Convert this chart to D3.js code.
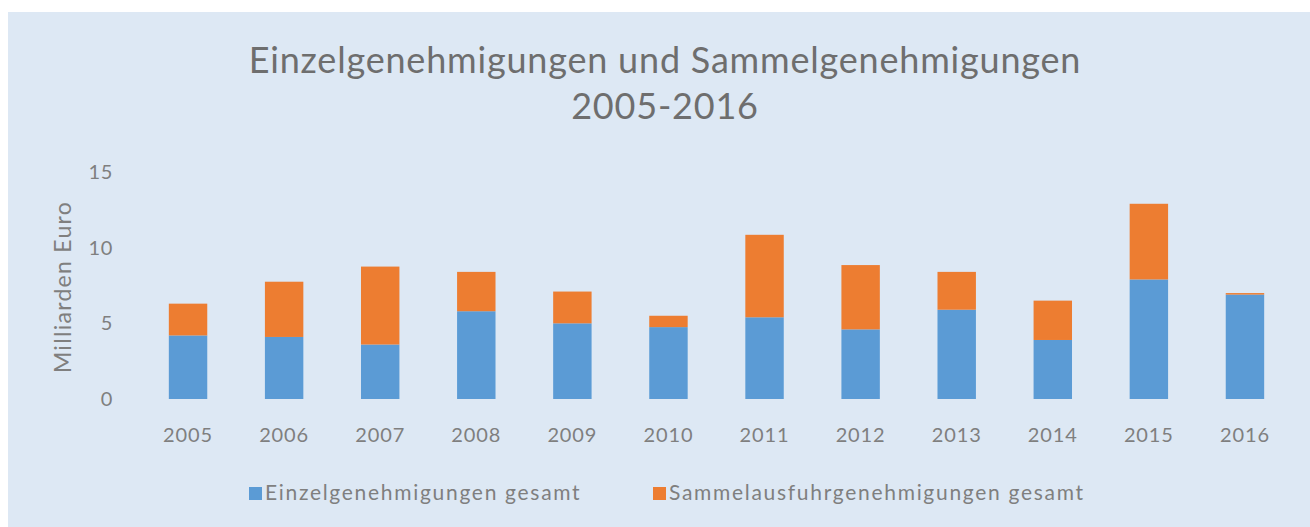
<!DOCTYPE html>
<html><head><meta charset="utf-8">
<script src="https://cdn.jsdelivr.net/npm/d3@7"></script>
<style>html,body{margin:0;padding:0;background:#fff;}</style>
</head><body>
<svg id="chart" width="1310" height="527"></svg>
<script>
const years = ["2005","2006","2007","2008","2009","2010","2011","2012","2013","2014","2015","2016"];
const einzel = [4.2, 4.1, 3.6, 5.8, 5.0, 4.75, 5.4, 4.6, 5.9, 3.9, 7.9, 6.9];
const sammel = [2.1, 3.65, 5.15, 2.6, 2.1, 0.75, 5.45, 4.25, 2.5, 2.6, 5.0, 0.1];
const yTicks = [0, 5, 10, 15];
const seriesNames = ["Einzelgenehmigungen gesamt", "Sammelausfuhrgenehmigungen gesamt"];
const colors = ["#5b9bd5", "#ed7d31"];
const titleLines = ["Einzelgenehmigungen und Sammelgenehmigungen", "2005-2016"];
const yTitle = "Milliarden Euro";

const font = "Lato, 'Open Sans', sans-serif";
const svg = d3.select("#chart");
svg.append("rect").attr("x", 8).attr("y", 12).attr("width", 1302).attr("height", 515).attr("fill", "#dde8f4");

const x = d3.scaleBand().domain(years).range([140, 1293]).paddingInner(0.6).paddingOuter(0.3);
const y = d3.scaleLinear().domain([0, 15]).range([399, 172]);

const rows = years.map((yr, i) => ({year: yr, einzel: einzel[i], sammel: sammel[i]}));
const stack = d3.stack().keys(["einzel", "sammel"])(rows);

svg.append("g").selectAll("g").data(stack).join("g")
  .attr("fill", (d, i) => colors[i])
  .selectAll("rect").data(d => d).join("rect")
  .attr("x", d => x(d.data.year))
  .attr("width", x.bandwidth())
  .attr("y", d => y(d[1]))
  .attr("height", d => y(d[0]) - y(d[1]));

// y axis
const yAxis = d3.axisLeft(y).tickValues(yTicks).tickSize(0).tickPadding(0);
const gy = svg.append("g").attr("transform", "translate(113,0)").call(yAxis);
gy.select(".domain").remove();
gy.selectAll("text").attr("font-family", font).attr("font-size", 20).attr("letter-spacing", 0.6).attr("fill", "#7f7f7f");

// x axis
const xAxis = d3.axisBottom(x).tickSize(0).tickPadding(0);
const gx = svg.append("g").attr("transform", "translate(0,428)").call(xAxis);
gx.select(".domain").remove();
gx.selectAll("text").attr("font-family", font).attr("font-size", 20).attr("letter-spacing", 0.9).attr("fill", "#7f7f7f").attr("dy", "0.71em");

// y title
svg.append("text").attr("transform", "translate(71,287) rotate(-90)")
  .attr("text-anchor", "middle").attr("font-family", font).attr("font-size", 23)
  .attr("letter-spacing", 1.3).attr("fill", "#7f7f7f").text(yTitle);

// title
svg.append("g").selectAll("text").data(titleLines).join("text")
  .attr("x", 665).attr("y", (d, i) => 73 + i * 46)
  .attr("text-anchor", "middle").attr("font-family", font).attr("font-size", 36)
  .attr("letter-spacing", 0.8).attr("fill", "#6e6e6e").text(d => d);

// legend
const legX = [249, 653];
const lg = svg.append("g").selectAll("g").data(seriesNames).join("g")
  .attr("transform", (d, i) => `translate(${legX[i]},487)`);
lg.append("rect").attr("width", 13).attr("height", 13).attr("fill", (d, i) => colors[i]);
lg.append("text").attr("x", 16).attr("y", 13).attr("font-family", font).attr("font-size", 21)
  .attr("letter-spacing", 1.7).attr("fill", "#7f7f7f").text(d => d);
</script>
</body></html>
